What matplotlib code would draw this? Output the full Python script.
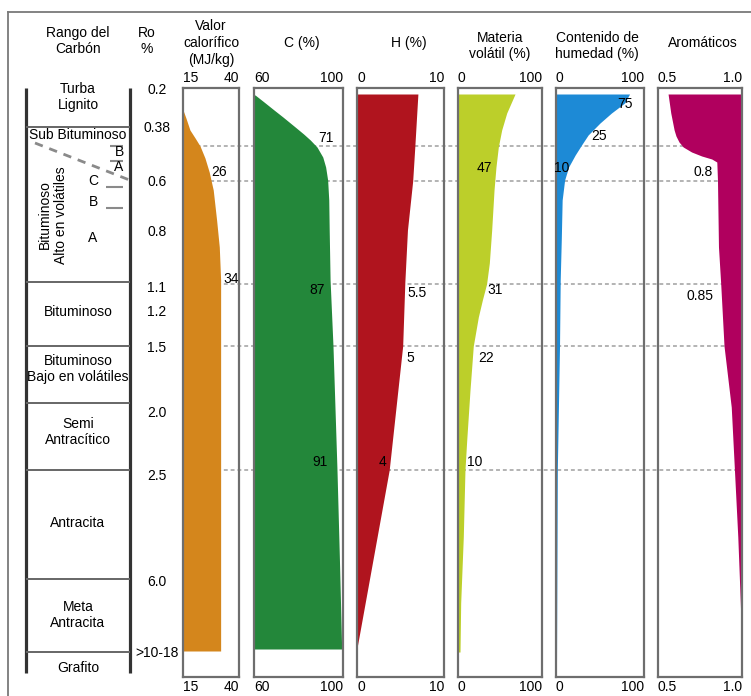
import matplotlib.pyplot as plt

plt.rcParams['font.family'] = ['Liberation Sans', 'DejaVu Sans']
plt.rcParams['font.size'] = 10

W, H = 751, 696

# vertical position on the rank scale (top of column = 88, bottom = 677)
ro_labels = ['0.2', '0.38', '0.6', '0.8', '1.1', '1.2', '1.5', '2.0', '2.5', '6.0', '>10-18']
ro_pos = [90, 128, 182, 232, 288, 312, 348, 413, 476, 582, 653]

rank_names = ['Turba\nLignito', 'Sub Bituminoso', 'Bituminoso',
              'Bituminoso\nBajo en volátiles', 'Semi\nAntracítico',
              'Antracita', 'Meta\nAntracita', 'Grafito']
rank_pos = [97, 135, 312, 369, 432, 523, 615, 668]
rank_bounds = [127, 282, 346, 403, 470, 579, 652]
ref_levels = [146, 181, 284, 346, 470]

# sub groups of high volatile bituminous coal
sub_letters = ['B', 'A', 'C', 'B', 'A']
sub_letter_pos = [152, 167, 181, 202, 238]
sub_bounds = [146, 161, 187, 208]

# profiles: rank position -> value
cal_depth = [110, 118, 130, 138, 146, 158, 172, 190, 220, 247, 280, 651]
cal_val = [15, 16.3, 18.1, 20.4, 22.6, 24.8, 26.7, 28.5, 30.0, 31.2, 31.8, 31.8]

c_depth = [95, 102, 110, 117, 127, 134, 140, 147, 157, 167, 180, 200, 230, 280,
           346, 470, 560, 649]
c_val = [60.5, 64.5, 69.0, 73.0, 78.5, 82.3, 85.3, 88.3, 90.9, 92.2, 93.1, 93.6,
         93.8, 94.2, 95.5, 97.3, 98.4, 99.4]

h_depth = [94, 146, 181, 230, 282, 346, 470, 648]
h_val = [7.0, 6.65, 6.4, 5.8, 5.5, 5.25, 3.7, 0.0]

vol_depth = [94, 113, 130, 147, 167, 190, 230, 263, 284, 300, 317, 346, 390, 440,
             470, 537, 603, 652]
vol_val = [67.9, 58.0, 52.0, 48.0, 45.2, 42.9, 40.1, 37.3, 34.0, 29.0, 24.2, 18.2,
           14.3, 10.4, 8.3, 6.3, 3.2, 2.4]

moist_depth = [94, 103, 113, 123, 135, 145, 155, 167, 180, 200, 240, 280, 346, 470, 677]
moist_val = [83.6, 78, 63, 50, 36.5, 29, 21.8, 14.3, 9.8, 7.0, 6.0, 4.8, 4.0, 1.5, 0.5]

arom_depth = [94, 113, 130, 136, 142, 147, 152, 156, 159, 162, 180, 247, 283, 346,
              407, 470, 537, 603, 643]
arom_val = [0.56, 0.576, 0.596, 0.607, 0.625, 0.65, 0.70, 0.76, 0.82, 0.85, 0.854,
            0.86, 0.873, 0.893, 0.936, 0.955, 0.975, 0.99, 0.998]

panels = [
    # title, lo, hi, lo label, hi label, depth, values, colour, fill towards
    ('Valor\ncalorífico\n(MJ/kg)', 15, 40, '15', '40', cal_depth, cal_val, '#d4861c', 'lo'),
    ('C (%)', 60, 100, '60', '100', c_depth, c_val, '#23873a', 'lo'),
    ('H (%)', 0, 10, '0', '10', h_depth, h_val, '#b0141e', 'lo'),
    ('Materia\nvolátil (%)', 0, 100, '0', '100', vol_depth, vol_val, '#bccf2a', 'lo'),
    ('Contenido de\nhumedad (%)', 0, 100, '0', '100', moist_depth, moist_val, '#1d8ad6', 'lo'),
    ('Aromáticos', 0.5, 1.0, '0.5', '1.0', arom_depth, arom_val, '#b0005e', 'hi'),
]

notes = [
    [('26', 31.1, 172), ('34', 36.7, 279)],
    [('71', 92.2, 138), ('87', 88.3, 290), ('91', 89.7, 462)],
    [('5.5', 6.9, 293), ('5', 6.1, 358), ('4', 2.9, 462)],
    [('47', 31, 168), ('31', 44, 290), ('22', 33, 358), ('10', 20.2, 462)],
    [('75', 78.3, 104), ('25', 49, 136), ('10', 6.8, 168)],
    [('0.8', 0.768, 172), ('0.85', 0.75, 296)],
]

# layout (pixels)
box_x = [(183, 239), (254, 343), (357, 444), (458, 542), (556, 644), (658, 742)]
title_x = [211, 302, 409, 500, 597, 703]
title_y = [43, 43, 43, 46, 46, 43]
top, bottom = 88, 677

fig = plt.figure(figsize=(W / 100, H / 100), dpi=100)
bg = fig.add_axes([0, 0, 1, 1])
bg.set_xlim(0, W)
bg.set_ylim(H, 0)
bg.axis('off')

# outer frame
bg.plot([8, W], [12, 12], color='#7a7a7a', lw=1.3)
bg.plot([8, 8], [12, H], color='#7a7a7a', lw=1.3)

# reference dotted lines behind the profiles
bg.hlines(ref_levels, box_x[0][0], box_x[-1][1], colors='#b3b3b3',
          linestyles=(0, (2, 1.5)), lw=1.4)

# rank column
bg.vlines([26, 130], top, 673, colors='#333333', lw=2.3)
bg.hlines(rank_bounds, 26, 130, colors='#666666', lw=1.4)
for name, y in zip(rank_names, rank_pos):
    bg.text(78, y, name, ha='center', va='center', linespacing=1.25)
bg.text(53, 215, 'Bituminoso\nAlto en volátiles', rotation=90,
        ha='center', va='center', multialignment='center', linespacing=1.2)
bg.plot([35, 132], [143, 181], color='#8a8a8a', lw=2, ls=(0, (3, 2.5)))
bg.hlines(sub_bounds[:2], 110, 123, colors='#8a8a8a', lw=1.5)
bg.hlines(sub_bounds[2:], 106, 123, colors='#8a8a8a', lw=1.5)
for i, (lt, y) in enumerate(zip(sub_letters, sub_letter_pos)):
    bg.text(119 if i < 2 else 93, y, lt, ha='center', va='center')

# Ro column
for lab, y in zip(ro_labels, ro_pos):
    bg.text(157, y, lab, ha='center', va='center')

# headers
bg.text(78, 41, 'Rango del\nCarbón', ha='center', va='center', linespacing=1.25)
bg.text(147, 41, 'Ro\n%', ha='center', va='center', linespacing=1.25)
for p, x, y in zip(panels, title_x, title_y):
    bg.text(x, y, p[0], ha='center', va='center', linespacing=1.25)

for (title, lo, hi, lo_lab, hi_lab, depth, vals, col, side), (x0, x1), pan_notes in zip(panels, box_x, notes):
    ax = fig.add_axes([x0 / W, 1 - bottom / H, (x1 - x0) / W, (bottom - top) / H], zorder=1)
    ax.set_facecolor('none')
    ax.set_xlim(lo, hi)
    ax.set_ylim(bottom, top)
    if side == 'lo':
        ax.fill_betweenx(depth, lo, vals, color=col, lw=0)
    else:
        ax.fill_betweenx(depth, vals, hi, color=col, lw=0)
    for sp in ax.spines.values():
        sp.set_color('#6e6e6e')
        sp.set_linewidth(1.6)
    ax.set_yticks([])
    ax.set_xticks([lo, hi], [lo_lab, hi_lab])
    ax.tick_params(axis='x', length=0, pad=2, top=True, labeltop=True,
                   bottom=True, labelbottom=True, labelsize=10)
    ticks = ax.xaxis.get_major_ticks()
    for t in (ticks[0].label1, ticks[0].label2):
        t.set_ha('left')
    for t in (ticks[-1].label1, ticks[-1].label2):
        t.set_ha('right')
    for txt, xv, yv in pan_notes:
        ax.text(xv, yv, txt, ha='center', va='center')

fig.savefig('out.png', dpi=100)
